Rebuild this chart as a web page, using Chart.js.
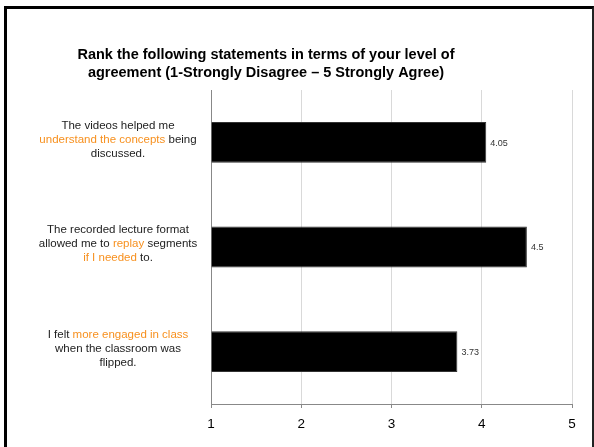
<!DOCTYPE html>
<html>
<head>
<meta charset="utf-8">
<script src="https://cdn.jsdelivr.net/npm/chart.js@4/dist/chart.umd.min.js"></script>
<style>
    body { margin: 0; background: #fff; }
    #wrap { position: relative; width: 594px; height: 447px; }
    #frame {
        position: absolute; left: 4px; top: 6px; width: 585px; height: 460px;
        border-left: 3px solid #000; border-top: 3px solid #000; border-right: 2px solid #222;
    }
    canvas { position: absolute; left: 0; top: 0; }
</style>
</head>
<body>
<div id="wrap">
    <div id="frame"></div>
    <canvas id="barChart" width="594" height="447"></canvas>
</div>
<script>
// lines of each statement; words between * * are highlighted orange
var categories = [
    ['The videos helped me', '*understand the concepts* being', 'discussed.'],
    ['The recorded lecture format', 'allowed me to *replay* segments', '*if I needed* to.'],
    ['I felt *more engaged in class*', 'when the classroom was', 'flipped.']
];
var values = [4.05, 4.5, 3.73];
var valueLabels = ['4.05', '4.5', '3.73'];
var ticks = [1, 2, 3, 4, 5];
var titleLines = ['Rank the following statements in terms of your level of',
                  'agreement (1-Strongly Disagree \u2013 5 Strongly Agree)'];

var FONT = '"Liberation Sans", Arial, sans-serif';

var drawText = {
    id: 'drawText',
    afterDraw: function(chart) {
        var ctx = chart.ctx;
        var yScale = chart.scales.y;
        var meta = chart.getDatasetMeta(0);

        // title
        ctx.save();
        ctx.fillStyle = '#000';
        ctx.font = 'bold 14.5px ' + FONT;
        ctx.textAlign = 'center';
        ctx.textBaseline = 'middle';
        ctx.fillText(titleLines[0], 266, 55);
        ctx.fillText(titleLines[1], 266, 73);
        ctx.restore();

        // statement labels with orange segments
        ctx.save();
        ctx.font = '11.5px ' + FONT;
        ctx.textBaseline = 'middle';
        ctx.textAlign = 'left';
        for (var i = 0; i < categories.length; i++) {
            var lines = categories[i];
            var cy = yScale.getPixelForValue(i) - 3;
            for (var j = 0; j < lines.length; j++) {
                var parts = lines[j].split('*');
                var plain = parts.join('');
                var w = ctx.measureText(plain).width;
                var x = 118 - w / 2;
                var y = cy + (j - (lines.length - 1) / 2) * 14;
                for (var k = 0; k < parts.length; k++) {
                    ctx.fillStyle = (k % 2 == 1) ? '#f7901e' : '#222';
                    ctx.fillText(parts[k], x, y);
                    x += ctx.measureText(parts[k]).width;
                }
            }
        }
        ctx.restore();

        // value labels
        ctx.save();
        ctx.font = '9px ' + FONT;
        ctx.fillStyle = '#333';
        ctx.textBaseline = 'middle';
        meta.data.forEach(function(bar, i) {
            ctx.fillText(valueLabels[i], bar.x + 4, bar.y + 1);
        });
        ctx.restore();
    }
};

var barChart = new Chart(document.getElementById('barChart'), {
    type: 'bar',
    data: {
        labels: categories.map(function(c) { return c.join(' ').replace(/\*/g, ''); }),
        datasets: [{
            data: values,
            backgroundColor: '#000',
            borderColor: '#333',
            borderWidth: 1,
            categoryPercentage: 1,
            barPercentage: 0.39,
            base: 1
        }]
    },
    options: {
        indexAxis: 'y',
        responsive: false,
        animation: false,
        layout: { padding: { left: 0, right: 22, top: 90, bottom: 0 } },
        plugins: { legend: { display: false }, title: { display: false }, tooltip: { enabled: false } },
        scales: {
            x: {
                min: 1, max: 5,
                afterBuildTicks: function(scale) {
                    scale.ticks = ticks.map(function(v) { return { value: v }; });
                },
                afterFit: function(scale) { scale.height = 43; },
                grid: { color: '#d9d9d9', tickColor: '#888', tickLength: 4, drawTicks: true },
                border: { color: '#888', width: 1 },
                ticks: { color: '#000', font: { family: FONT, size: 13.5 }, padding: 8 }
            },
            y: {
                afterFit: function(scale) { scale.width = 211; },
                grid: { display: false },
                border: { color: '#888', width: 1 },
                ticks: { display: false }
            }
        }
    },
    plugins: [drawText]
});
</script>
</body>
</html>
